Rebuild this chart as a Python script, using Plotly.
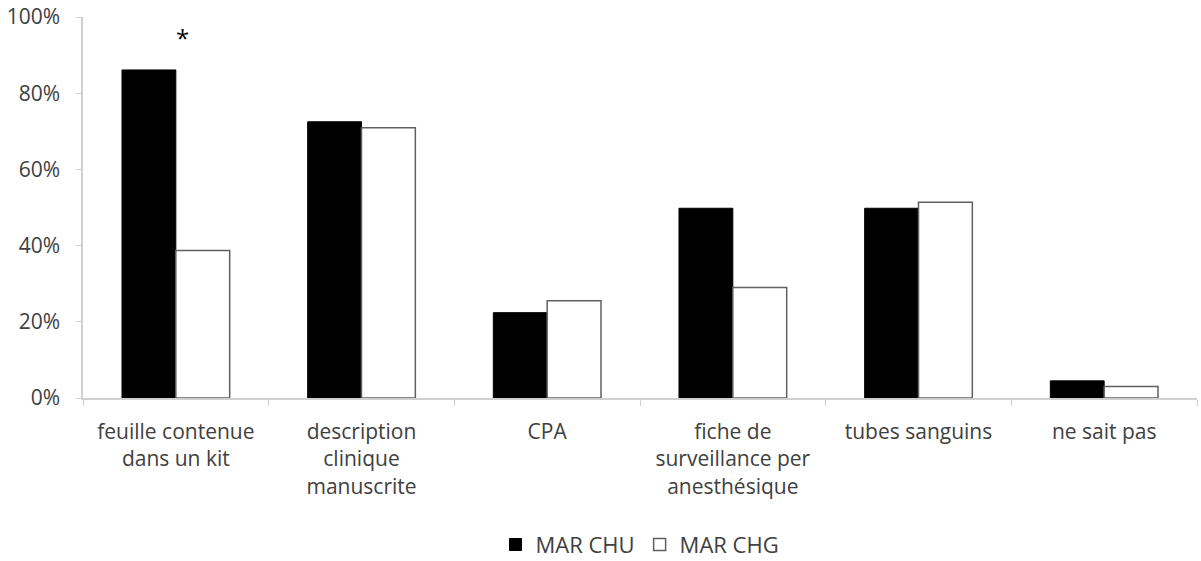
import plotly.graph_objects as go

categories = ["feuille contenue<br>dans un kit", "description<br>clinique<br>manuscrite", "CPA",
              "fiche de<br>surveillance per<br>anesthésique", "tubes sanguins", "ne sait pas"]
mar_chu = [0.861, 0.725, 0.224, 0.498, 0.498, 0.045]
mar_chg = [0.387, 0.709, 0.255, 0.290, 0.514, 0.030]
y_ticks = [0, 0.2, 0.4, 0.6, 0.8, 1.0]
y_ticklabels = ["0%", "20%", "40%", "60%", "80%", "100%"]

font_family = "Open Sans"
text_color = "#404040"
axis_color = "#d0d0d0"

fig = go.Figure()
fig.add_trace(go.Bar(x=categories, y=mar_chu, name="MAR CHU",
                     marker=dict(color="black", line=dict(color="black", width=1))))
fig.add_trace(go.Bar(x=categories, y=mar_chg, name="MAR CHG",
                     marker=dict(color="white", line=dict(color="#606060", width=1.5))))

fig.add_annotation(x=categories[0], y=0.945, text="*", showarrow=False,
                   xshift=7, font=dict(size=24, color="black", family=font_family))

fig.update_layout(
    width=1201, height=561,
    margin=dict(l=83, r=4, t=17, b=163, autoexpand=False),
    paper_bgcolor="white", plot_bgcolor="white",
    barmode="group", bargap=0.42, bargroupgap=0,
    font=dict(family=font_family, size=21, color=text_color),
    showlegend=True,
    legend=dict(orientation="h", x=0.5, xanchor="center", y=-0.385, yanchor="middle",
                font=dict(size=22, color=text_color), itemwidth=30,
                traceorder="normal"),
    xaxis=dict(showline=True, linecolor=axis_color, linewidth=1.5,
               ticks="outside", tickson="boundaries", ticklen=6, tickcolor=axis_color,
               showgrid=False, ticklabelstandoff=14, automargin=False,
               tickfont=dict(size=21, color=text_color)),
    yaxis=dict(range=[0, 1.0], tickvals=y_ticks, ticktext=y_ticklabels,
               showline=True, linecolor=axis_color, linewidth=1.5,
               ticks="outside", ticklen=5, tickcolor=axis_color,
               showgrid=False, zeroline=False, ticklabelstandoff=12, automargin=False,
               tickfont=dict(size=21, color=text_color)),
)

fig.write_html("out.html", config={"displayModeBar": False},
               post_script="document.body.style.margin='0';document.body.style.padding='0';")
